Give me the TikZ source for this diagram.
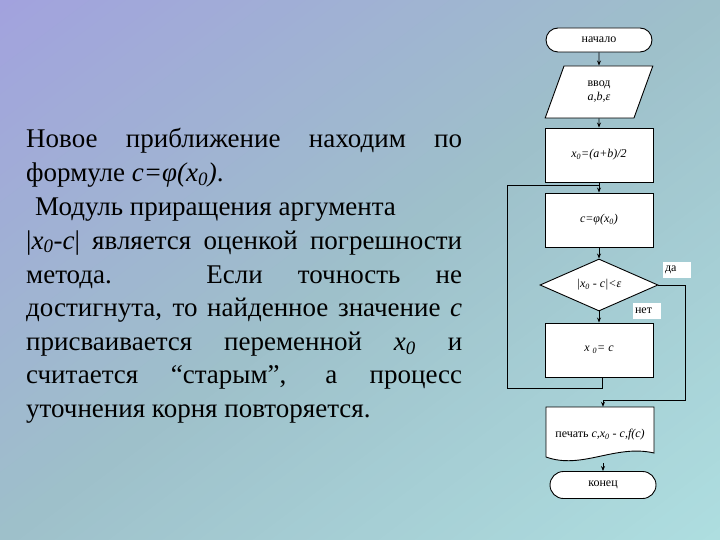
\documentclass[tikz,border=0pt]{standalone}
\usepackage{fontspec}
\newfontfamily\lserif{Liberation Serif}
\usetikzlibrary{shapes.geometric,shapes.misc,arrows.meta}
\definecolor{cTL}{HTML}{A2A2DE}
\definecolor{cMid}{HTML}{9EC0CA}
\definecolor{cBR}{HTML}{AEDEE0}
\newcommand\fcf{\lserif\fontsize{12}{14}\selectfont}
\newcommand\txf{\lserif\fontsize{27}{33}\selectfont}
\begin{document}
\begin{tikzpicture}[x=1pt,y=-1pt,
  box/.style={draw,fill=white,line width=0.9pt,minimum width=108pt,minimum height=54pt,inner sep=1pt},
  term/.style={draw,fill=white,line width=0.9pt,rounded rectangle,minimum width=108pt,inner sep=1pt},
  io/.style={draw,fill=white,line width=0.9pt,trapezium,trapezium stretches=true,trapezium left angle=74,trapezium right angle=106,minimum width=108pt,minimum height=52pt,inner sep=1pt,align=center},
  dec/.style={draw,fill=white,line width=0.9pt,diamond,aspect=2.3,minimum width=118pt,minimum height=52pt,inner sep=1pt},
  lab/.style={fill=white,text width=24pt,inner sep=2pt,minimum height=16pt,align=left},
  arr/.style={-{Stealth[length=5pt,width=4pt]},line width=0.9pt},
  ln/.style={line width=0.9pt},
  txt/.style={inner sep=0pt,anchor=base west}
]
% background gradient (diagonal bands)
\begin{scope}
\clip (0,0) rectangle (720,540);
\foreach \i in {0,...,79}{
  \pgfmathsetmacro\ta{\i/80}
  \pgfmathsetmacro\tb{(\i+1.1)/80}
  \pgfmathsetmacro\tc{(\i+0.5)/80}
  \ifdim \tc pt<0.5pt
    \pgfmathsetmacro\p{100*(1-2*\tc)}
    \colorlet{bandc}{cTL!\p!cMid}
  \else
    \pgfmathsetmacro\p{100*(2-2*\tc)}
    \colorlet{bandc}{cMid!\p!cBR}
  \fi
  \fill[bandc] (1440*\ta,0) -- (1440*\tb,0) -- (0,1080*\tb) -- (0,1080*\ta) -- cycle;
}
\end{scope}
\useasboundingbox (0,0) rectangle (720,540);

% left text
\node[txt] (t1) at (26,148) {\txf\makebox[436pt][s]{Новое приближение находим по}};
\node[txt] (t2) at (26,182) {\txf формуле \textit{c=φ(x\textsubscript{0})}.};
\node[txt] (t3) at (35,215) {\txf Модуль приращения аргумента};
\node[txt] (t4) at (26,249) {\txf\makebox[436pt][s]{|\textit{x\textsubscript{0}}-\textit{c}| является оценкой погрешности}};
\node[txt] (t5) at (26,283) {\txf\makebox[436pt][s]{метода. Если точность не}};
\node[txt] (t6) at (26,316) {\txf\makebox[436pt][s]{достигнута, то найденное значение \textit{c}}};
\node[txt] (t7) at (26,350) {\txf\makebox[436pt][s]{присваивается переменной \textit{x\textsubscript{0}} и}};
\node[txt] (t8) at (26,383) {\txf\makebox[436pt][s]{считается “старым”, а процесс}};
\node[txt] (t9) at (26,417) {\txf уточнения корня повторяется.};

% print (document) outline
\draw[ln,fill=white] (546,407) -- (654,407) -- (654,453) .. controls (615,444) and (582,470) .. (546,457) -- cycle;

% flowchart
\node[term,minimum height=24pt] (start) at (599,40) {\fcf начало};
\node[io] (input) at (599,92) {\fcf ввод\\[2pt] \fcf\textit{a,b,ε}};
\node[box] (init) at (599,155) {\fcf\textit{x\textsubscript{0}=(a+b)/2}};
\node[box] (calc) at (599,220) {\fcf\textit{c=φ(x\textsubscript{0})}};
\node[dec] (cond) at (599,285) {\fcf\textit{|x\textsubscript{0} - c|<ε}};
\node[box] (assign) at (599,350) {\fcf\textit{x \textsubscript{0}= c}};
\node[minimum width=108pt,minimum height=56pt,inner sep=0pt] (print) at (600,435) {\fcf печать \textit{c,x\textsubscript{0} - c,f(c)}};
\node[term,minimum height=27pt] (stop) at (603,485) {\fcf конец};
\node[lab] (yes) at (677,270) {\fcf да};
\node[lab] (no) at (647,310.5) {\fcf нет};

\coordinate (loopL) at (507,185);
\coordinate (rightR) at (685,400);

\draw[arr] (start) -- (input);
\draw[arr] (input) -- (init);
\draw[arr] (calc) -- (cond);
\draw[arr] (cond) -- (assign);
\draw[arr] ([xshift=3pt]assign.south) -- ++(0,11) -| (loopL) -| (calc.north);
\draw[ln] (init.south) -- ++(0,3);
\draw[arr] (cond.east) -| (rightR) -| ([xshift=3pt]print.north);
\draw[arr] (stop.north |- print.south) -- (stop.north);
\end{tikzpicture}
\end{document}
